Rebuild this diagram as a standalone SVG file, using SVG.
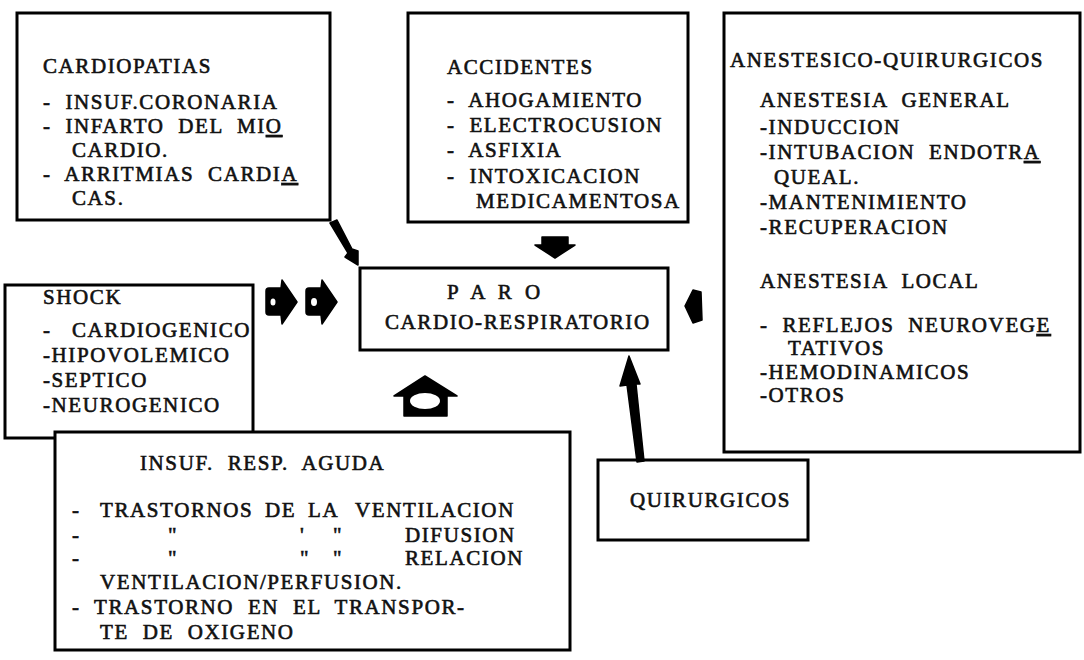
<svg xmlns="http://www.w3.org/2000/svg" width="1084" height="660" viewBox="0 0 1084 660">
<style>
  .box { fill: #fff; stroke: #000; stroke-width: 3; }
  text { font-family: "Liberation Serif", "Times New Roman", serif; font-size: 21px; letter-spacing: 1.6px; word-spacing: 7px; fill: #111; stroke: #111; stroke-width: 0.6; }
  .u { text-decoration: underline; }
  .arrow { fill: #000; stroke: #000; stroke-width: 1.5; stroke-linejoin: round; }
  .speck { fill: #fff; }
</style>
<rect x="0" y="0" width="1084" height="660" fill="#fff"/>

<g id="cardiopatias">
  <rect class="box" x="17" y="13" width="313" height="207"/>
  <text x="43" y="73">CARDIOPATIAS</text>
  <text x="43" y="109">- INSUF.CORONARIA</text>
  <text x="43" y="133">- INFARTO DEL MI<tspan class="u">O</tspan></text>
  <text x="72" y="157">CARDIO.</text>
  <text x="43" y="181">- ARRITMIAS CARDI<tspan class="u">A</tspan></text>
  <text x="72" y="205">CAS.</text>
</g>

<g id="accidentes">
  <rect class="box" x="408" y="13" width="280" height="209"/>
  <text x="447" y="74">ACCIDENTES</text>
  <text x="447" y="107">- AHOGAMIENTO</text>
  <text x="447" y="132">- ELECTROCUSION</text>
  <text x="447" y="157">- ASFIXIA</text>
  <text x="447" y="183">- INTOXICACION</text>
  <text x="476" y="208">MEDICAMENTOSA</text>
</g>

<g id="anestesico">
  <rect class="box" x="724" y="13" width="356" height="439"/>
  <text x="730" y="67">ANESTESICO-QUIRURGICOS</text>
  <text x="760" y="107">ANESTESIA GENERAL</text>
  <text x="760" y="134">-INDUCCION</text>
  <text x="760" y="159">-INTUBACION ENDOTR<tspan class="u">A</tspan></text>
  <text x="774" y="184">QUEAL.</text>
  <text x="760" y="209">-MANTENIMIENTO</text>
  <text x="760" y="234">-RECUPERACION</text>
  <text x="760" y="288">ANESTESIA LOCAL</text>
  <text x="760" y="332">- REFLEJOS NEUROVEG<tspan class="u">E</tspan></text>
  <text x="788" y="355">TATIVOS</text>
  <text x="760" y="379">-HEMODINAMICOS</text>
  <text x="760" y="402">-OTROS</text>
</g>

<g id="paro">
  <rect class="box" x="360" y="268" width="308" height="82"/>
  <text x="447" y="299" style="word-spacing:5px">P A R O</text>
  <text x="385" y="329">CARDIO-RESPIRATORIO</text>
</g>

<g id="shock">
  <rect class="box" x="5" y="285" width="248" height="153"/>
  <text x="43" y="304">SHOCK</text>
  <text x="43" y="337">-</text>
  <text x="72" y="337">CARDIOGENICO</text>
  <text x="43" y="362">-HIPOVOLEMICO</text>
  <text x="43" y="387">-SEPTICO</text>
  <text x="43" y="412">-NEUROGENICO</text>
</g>

<g id="insuf">
  <rect class="box" x="55" y="432" width="515" height="218"/>
  <text x="140" y="470">INSUF. RESP. AGUDA</text>
  <text x="72" y="517">-</text>
  <text x="100" y="517">TRASTORNOS</text>
  <text x="265" y="517">DE</text>
  <text x="308" y="517">LA</text>
  <text x="355" y="517">VENTILACION</text>
  <text x="72" y="542">-</text>
  <text x="168" y="542">"</text>
  <text x="300" y="542">'</text>
  <text x="333" y="542">"</text>
  <text x="405" y="542">DIFUSION</text>
  <text x="72" y="565">-</text>
  <text x="168" y="565">"</text>
  <text x="300" y="565">"</text>
  <text x="333" y="565">"</text>
  <text x="405" y="565">RELACION</text>
  <text x="100" y="589">VENTILACION/PERFUSION.</text>
  <text x="72" y="614">- TRASTORNO EN EL TRANSPOR-</text>
  <text x="100" y="639">TE DE OXIGENO</text>
</g>

<g id="quirurgicos">
  <rect class="box" x="598" y="460" width="210" height="80"/>
  <text x="630" y="507">QUIRURGICOS</text>
</g>

<g id="connectors">
  <!-- cardiopatias to paro -->
  <path class="arrow" d="M330,223 L337,220 L352,249 L358,251 L358,265 L345,257 L348,253 Z"/>
  <!-- accidentes down -->
  <path class="arrow" d="M542,237 L568,237 L568,245 L575,245 L555,258 L535,245 L542,245 Z"/>
  <!-- shock right arrows -->
  <path class="arrow" d="M266,291 Q266,288 269,288 L281,288 L282,280 L297,302 L282,324 L281,315 L269,315 Q266,315 266,312 Z"/>
  <ellipse class="speck" cx="273" cy="302" rx="2.5" ry="3.5"/>
  <path class="arrow" d="M306,291 Q306,288 309,288 L321,288 L322,280 L337,302 L322,324 L321,315 L309,315 Q306,315 306,312 Z"/>
  <ellipse class="speck" cx="314" cy="302" rx="3" ry="4"/>
  <!-- anestesico left arrow -->
  <path class="arrow" d="M685,306 L693,290 L701,292 L702,320 L693,323 Z"/>
  <!-- insuf up arrow -->
  <path class="arrow" d="M425,376 L457,396 L447,396 L447,416 L404,416 L404,396 L394,396 Z"/>
  <ellipse class="speck" cx="425" cy="401" rx="15" ry="8"/>
  <!-- quirurgicos up arrow -->
  <path class="arrow" d="M637,462 L644,461 L636,384 L640,384 L629,356 L620,386 L627,385 Z"/>
</g>
</svg>
